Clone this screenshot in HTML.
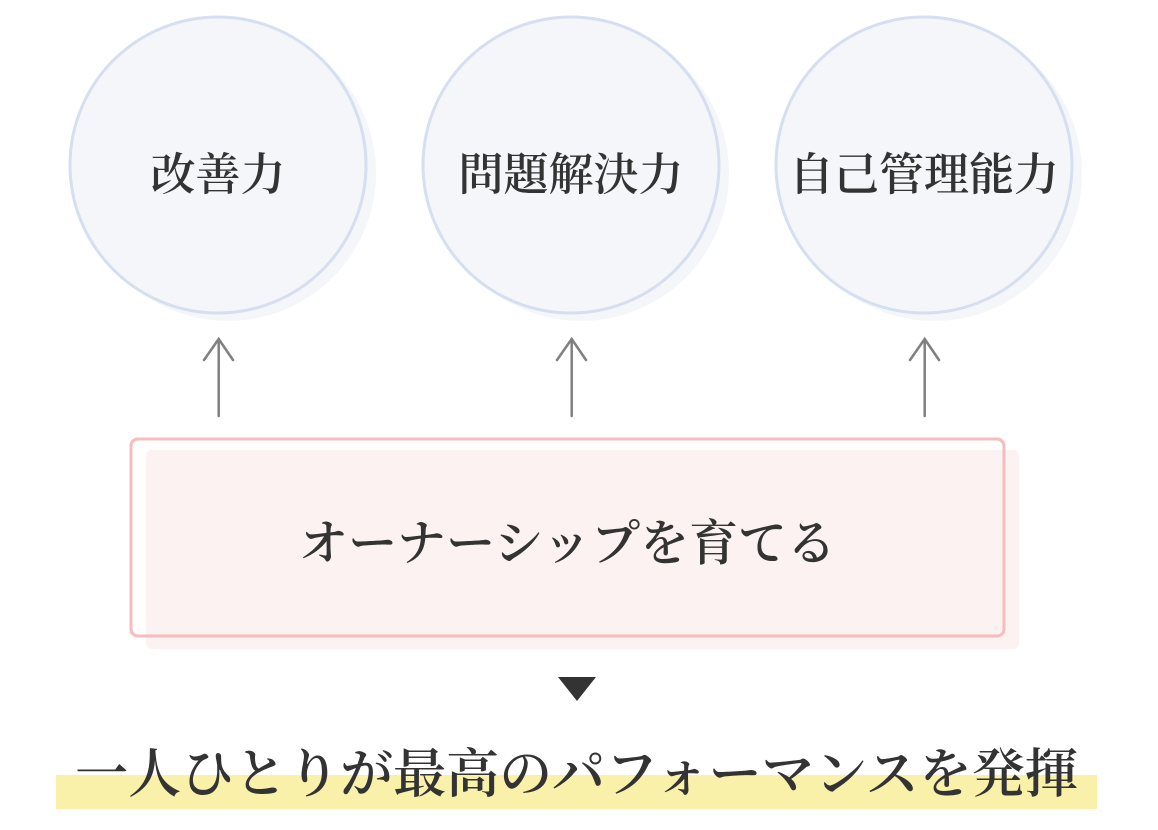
<!DOCTYPE html>
<html><head><meta charset="utf-8"><style>
body{margin:0;width:1158px;height:830px;background:#fff;overflow:hidden;position:relative;font-family:"Liberation Serif","Noto Serif CJK SC",serif;color:#333;font-weight:600}
.t{position:absolute;text-align:center;white-space:nowrap}
</style></head><body>
<svg width="1158" height="830" style="position:absolute;left:0;top:0">
<g fill="#f4f6fa">
<circle cx="228" cy="173" r="148"/><circle cx="581" cy="173" r="148"/><circle cx="934" cy="173" r="148"/>
</g>
<g fill="#f4f6fa" stroke="#d6dff0" stroke-width="3">
<circle cx="218" cy="165" r="148"/><circle cx="571" cy="165" r="148"/><circle cx="924" cy="165" r="148"/>
</g>
<g stroke="#808080" stroke-width="2.5" fill="none" stroke-linecap="round">
<path d="M218.7 416V339M204 360L218.7 339L233 360"/>
<path d="M571.7 416V339M557 360L571.7 339L586 360"/>
<path d="M924.7 416V339M910 360L924.7 339L939 360"/>
</g>
<rect x="131" y="439" width="873" height="197" rx="7" fill="#fff" stroke="#f7bcbc" stroke-width="3"/>
<rect x="146" y="450" width="873" height="199" rx="5" fill="#fdf2f2"/>
<path d="M131 630V446a7 7 0 0 1 7-7H997a7 7 0 0 1 7 7V629a7 7 0 0 1-7 7H138a7 7 0 0 1-7-7z" fill="none" stroke="#f7bcbc" stroke-width="3"/>
<path d="M558 677H596L577 701Z" fill="#333"/>
<rect x="56" y="775" width="1041" height="34" fill="#f9f0aa"/>
</svg>
<div class="t" style="left:68px;width:300px;top:138px;font-size:45px">改善力</div>
<div class="t" style="left:421px;width:300px;top:138px;font-size:45px">問題解決力</div>
<div class="t" style="left:774px;width:300px;top:138px;font-size:45px">自己管理能力</div>
<div class="t" style="left:131px;width:873px;top:505px;font-size:49px">オーナーシップを育てる</div>
<div class="t" style="left:0;width:1153px;top:732px;font-size:53px">一人ひとりが最高のパフォーマンスを発揮</div>
</body></html>
